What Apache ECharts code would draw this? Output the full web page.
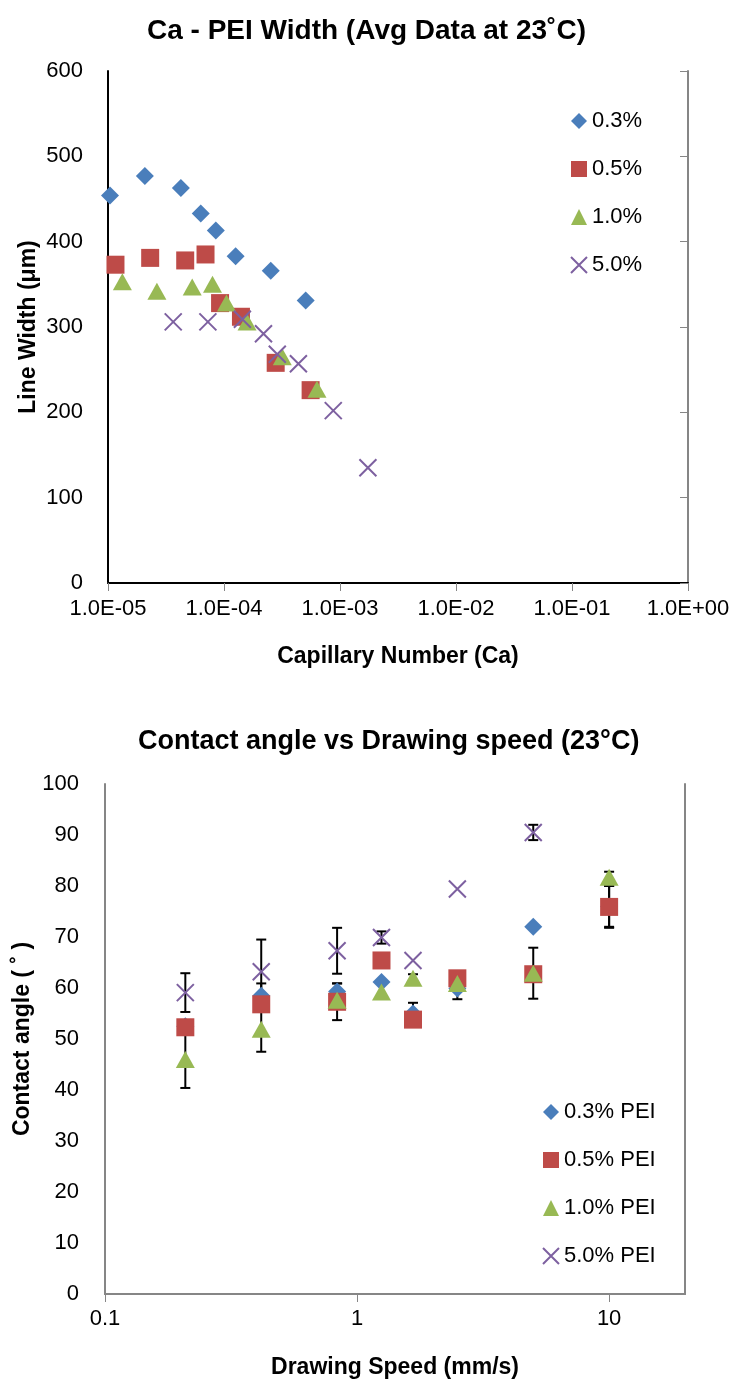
<!DOCTYPE html>
<html><head><meta charset="utf-8">
<script src="https://cdn.jsdelivr.net/npm/echarts@6/dist/echarts.min.js"></script>
<style>html,body{margin:0;padding:0;background:#fff}#c{width:733px;height:1382px}</style>
</head><body><div id="c"></div>
<script>
// ---------- Chart 1: Ca - PEI Width ----------
const caX_03 = [1.04e-5, 2.08e-5, 4.25e-5, 6.3e-5, 8.5e-5, 1.26e-4, 2.53e-4, 5.06e-4];
const width_03 = [454, 477, 463, 433, 413, 383, 366, 331];
const caX_05 = [1.16e-5, 2.31e-5, 4.63e-5, 6.93e-5, 9.25e-5, 1.40e-4, 2.79e-4, 5.58e-4];
const width_05 = [373, 381, 378, 385, 328, 312, 258, 226];
const caX_10 = [1.33e-5, 2.64e-5, 5.32e-5, 7.96e-5, 1.05e-4, 1.58e-4, 3.18e-4, 6.33e-4];
const width_10 = [353, 342, 347, 350, 328, 306, 265, 227];
const caX_50 = [3.65e-5, 7.26e-5, 1.44e-4, 2.19e-4, 2.88e-4, 4.38e-4, 8.75e-4, 1.74e-3];
const width_50 = [306, 306, 309, 292, 268, 257, 202, 135];
const caNames = ['0.3%', '0.5%', '1.0%', '5.0%'];
const caTickLabels = ['1.0E-05', '1.0E-04', '1.0E-03', '1.0E-02', '1.0E-01', '1.0E+00'];

// ---------- Chart 2: Contact angle vs Drawing speed ----------
const speeds = [0.2083, 0.4167, 0.8333, 1.25, 1.667, 2.5, 5, 10];
const angle_03 = [52.5, 58.5, 59.3, 61.2, 55.0, 59.9, 72.0, 76.0];
const angle_05 = [52.3, 56.8, 57.3, 65.4, 53.8, 61.9, 62.7, 75.9];
const angle_10 = [46.0, 51.9, 57.6, 59.2, 61.9, 60.9, 62.9, 81.7];
const angle_50 = [59.1, 63.2, 67.3, 69.9, 65.4, 79.4, 90.5, null];
const err_03 = [null, 2.4, 1.6, null, 2.1, 2.1, null, 4.0];
const err_05 = [null, null, 3.6, null, null, null, null, 4.1];
const err_10 = [5.6, 4.4, null, null, 0.8, null, 5.0, 1.1];
const err_50 = [3.8, 6.3, 4.5, 1.2, null, null, 1.5, null];
const angleNames = ['0.3% PEI', '0.5% PEI', '1.0% PEI', '5.0% PEI'];
const speedTickLabels = ['0.1', '1', '10'];

const COLORS = ['#4A7EBB', '#BE4B48', '#98B954', '#7D60A0'];
const FONT = "'Liberation Sans', Arial, sans-serif";
const XPATH = 'path://M0,0L20,20M20,0L0,20';
const SYMS = ['diamond', 'rect', 'triangle', XPATH];
const SIZES = [18, 18, [19, 17], 17];

function pairs(xs, ys) { return xs.map((x, i) => ys[i] == null ? null : [x, ys[i]]).filter(p => p); }
function markerStyle(i) {
  if (i === 3) return { color: 'rgba(0,0,0,0)', borderColor: COLORS[3], borderWidth: 2, opacity: 1 };
  return { color: COLORS[i], opacity: 1 };
}

const caSets = [[caX_03, width_03], [caX_05, width_05], [caX_10, width_10], [caX_50, width_50]];
const angSets = [angle_03, angle_05, angle_10, angle_50];
const errSets = [err_03, err_05, err_10, err_50];

const errData = [];
errSets.forEach((es, s) => es.forEach((e, i) => {
  if (e != null && angSets[s][i] != null) errData.push([speeds[i], angSets[s][i] - e, angSets[s][i] + e]);
}));

const series = [];
caSets.forEach((set, i) => series.push({
  name: caNames[i], type: 'scatter', xAxisIndex: 0, yAxisIndex: 0,
  symbol: SYMS[i], symbolSize: SIZES[i], itemStyle: markerStyle(i),
  data: pairs(set[0], set[1]), z: 3
}));
series.push({
  type: 'custom', xAxisIndex: 2, yAxisIndex: 2, z: 2, silent: true,
  data: errData,
  renderItem: function (params, api) {
    const x = api.value(0);
    const lo = api.coord([x, api.value(1)]);
    const hi = api.coord([x, api.value(2)]);
    const w = 5;
    const st = { stroke: '#000', lineWidth: 2 };
    return { type: 'group', children: [
      { type: 'line', shape: { x1: lo[0], y1: lo[1], x2: hi[0], y2: hi[1] }, style: st },
      { type: 'line', shape: { x1: lo[0] - w, y1: lo[1], x2: lo[0] + w, y2: lo[1] }, style: st },
      { type: 'line', shape: { x1: hi[0] - w, y1: hi[1], x2: hi[0] + w, y2: hi[1] }, style: st }
    ]};
  }
});
angSets.forEach((ys, i) => series.push({
  name: angleNames[i], type: 'scatter', xAxisIndex: 2, yAxisIndex: 2,
  symbol: SYMS[i], symbolSize: SIZES[i], itemStyle: markerStyle(i),
  data: pairs(speeds, ys), z: 3
}));

const GRAY = '#868686';
const labelStyle = { fontFamily: FONT, fontSize: 22, color: '#000' };
const nameStyle = { fontFamily: FONT, fontSize: 23, fontWeight: 'bold', color: '#000' };

const option = {
  animation: false,
  backgroundColor: '#fff',
  title: [
    { text: 'Ca - PEI Width (Avg Data at 23˚C)', left: 'center', top: 12,
      textStyle: { fontFamily: FONT, fontSize: 28, fontWeight: 'bold', color: '#000' } },
    { text: 'Contact angle vs Drawing speed (23°C)', left: 133, top: 723,
      textStyle: { fontFamily: FONT, fontSize: 27, fontWeight: 'bold', color: '#000' } }
  ],
  legend: [
    { data: caNames, orient: 'vertical', left: 570, top: 110, padding: 0, itemWidth: 16, itemHeight: 16,
      itemGap: 26, textStyle: { fontFamily: FONT, fontSize: 22, color: '#000', lineHeight: 22 } },
    { data: angleNames, orient: 'vertical', left: 542, top: 1101, padding: 0, itemWidth: 16, itemHeight: 16,
      itemGap: 26, textStyle: { fontFamily: FONT, fontSize: 22, color: '#000', lineHeight: 22 } }
  ],
  grid: [
    { left: 108, top: 71, width: 580, height: 512 },
    { left: 105, top: 784, width: 580, height: 510 }
  ],
  xAxis: [
    { gridIndex: 0, type: 'log', logBase: 10, min: 1e-5, max: 1,
      name: 'Capillary Number (Ca)', nameLocation: 'middle', nameGap: 62, nameTextStyle: nameStyle,
      axisLine: { lineStyle: { color: GRAY, width: 2 } },
      axisTick: { show: true, length: 8, lineStyle: { color: GRAY, width: 1 } },
      axisLabel: Object.assign({ margin: 15, formatter: v => caTickLabels[Math.round(Math.log10(v)) + 5] }, labelStyle),
      splitLine: { show: false }, minorTick: { show: false } },
    { gridIndex: 0, type: 'log', logBase: 10, min: 1e-5, max: 1, position: 'top',
      axisLine: { lineStyle: { color: '#000', width: 2 } }, axisTick: { show: false },
      axisLabel: { show: false }, splitLine: { show: false } },
    { gridIndex: 1, type: 'log', logBase: 10, min: 0.1, max: 20,
      name: 'Drawing Speed (mm/s)', nameLocation: 'middle', nameGap: 62, nameTextStyle: nameStyle,
      axisLine: { lineStyle: { color: GRAY, width: 2 } },
      axisTick: { show: true, length: 8, lineStyle: { color: GRAY, width: 1 } },
      axisLabel: Object.assign({ margin: 14, showMaxLabel: false,
        formatter: v => { const k = Math.round(Math.log10(v)) + 1; return Math.abs(Math.log10(v) - Math.round(Math.log10(v))) < 1e-6 ? (speedTickLabels[k] || '') : ''; } }, labelStyle),
      splitLine: { show: false } },
    { gridIndex: 1, type: 'log', logBase: 10, min: 0.1, max: 20, position: 'top',
      axisLine: { lineStyle: { color: GRAY, width: 2 } }, axisTick: { show: false },
      axisLabel: { show: false }, splitLine: { show: false } }
  ],
  yAxis: [
    { gridIndex: 0, type: 'value', min: 0, max: 600, interval: 100,
      name: 'Line Width (μm)', nameLocation: 'middle', nameGap: 68, nameMoveOverlap: false, nameTextStyle: nameStyle,
      axisLine: { show: true, lineStyle: { color: '#000', width: 2 } }, axisTick: { show: false },
      axisLabel: Object.assign({ margin: 25 }, labelStyle), splitLine: { show: false } },
    { gridIndex: 0, type: 'value', min: 0, max: 600, interval: 100, position: 'right',
      axisLine: { show: true, lineStyle: { color: GRAY, width: 2 } },
      axisTick: { show: true, inside: true, length: 8, lineStyle: { color: GRAY } },
      axisLabel: { show: false }, splitLine: { show: false } },
    { gridIndex: 1, type: 'value', min: 0, max: 100, interval: 10,
      name: 'Contact angle ( ˚ )', nameLocation: 'middle', nameGap: 71, nameMoveOverlap: false, nameTextStyle: nameStyle,
      axisLine: { show: true, lineStyle: { color: GRAY, width: 2 } }, axisTick: { show: false },
      axisLabel: Object.assign({ margin: 26 }, labelStyle), splitLine: { show: false } },
    { gridIndex: 1, type: 'value', min: 0, max: 100, interval: 10, position: 'right',
      axisLine: { show: true, lineStyle: { color: GRAY, width: 2 } }, axisTick: { show: false },
      axisLabel: { show: false }, splitLine: { show: false } }
  ],
  series: series
};
const chart = echarts.init(document.getElementById('c'), null, { renderer: 'canvas' });
chart.setOption(option);
</script></body></html>
